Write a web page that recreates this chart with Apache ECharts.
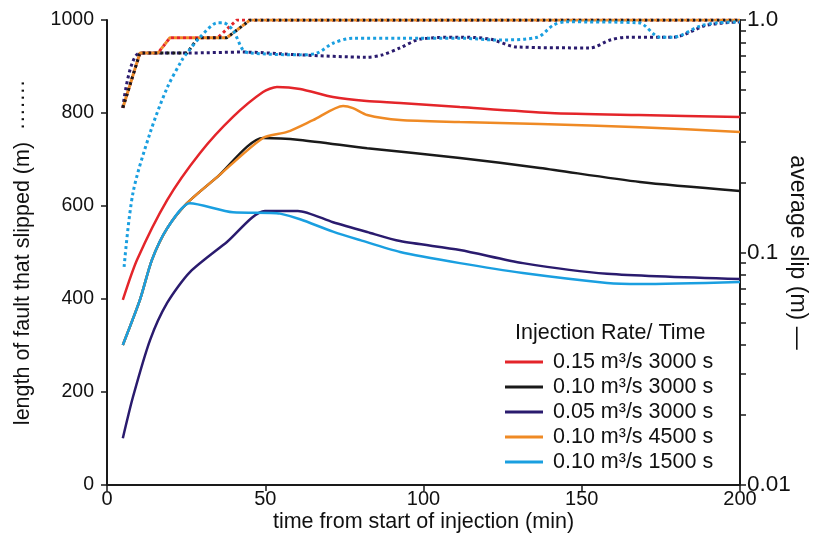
<!DOCTYPE html>
<html>
<head>
<meta charset="utf-8">
<script src="https://cdn.jsdelivr.net/npm/echarts@6/dist/echarts.min.js"></script>
<style>
html,body{margin:0;padding:0;background:#fff;}
#chart{width:818px;height:538px;}
</style>
</head>
<body>
<div id="chart"></div>
<script>
// ---- data: average slip (m), solid lines, right log axis ----
const slip_015_3000 = [[5,0.0625],[9.5,0.093],[19,0.168],[29.4,0.268],[39.8,0.383],[49.3,0.49],[53.7,0.515],[61,0.505],[71.4,0.466],[82,0.448],[92.6,0.44],[111.5,0.422],[140,0.398],[168,0.39],[200,0.383]];
const slip_010_3000 = [[5,0.040],[10.4,0.0625],[14.2,0.093],[19,0.127],[25.3,0.163],[34.8,0.211],[49.3,0.311],[61,0.305],[82.2,0.281],[111.5,0.255],[136.8,0.231],[168.4,0.201],[200,0.184]];
const slip_005_3000 = [[5,0.0159],[8.2,0.0239],[13.6,0.042],[19,0.0607],[26.2,0.0824],[37.9,0.111],[49.9,0.151],[60.3,0.151],[71.4,0.135],[82.2,0.1225],[92.6,0.112],[111.5,0.1025],[131.4,0.090],[158,0.081],[200,0.0769]];
const slip_010_4500 = [[5,0.040],[10.4,0.0625],[14.2,0.093],[19,0.127],[25.3,0.163],[34.8,0.211],[49.3,0.311],[56.9,0.330],[65.1,0.371],[74.6,0.427],[77.7,0.418],[82.2,0.39],[92.6,0.371],[111.5,0.364],[136.8,0.357],[168.4,0.346],[200,0.330]];
const slip_010_1500 = [[5,0.040],[10.4,0.0625],[14.2,0.093],[19,0.127],[26.2,0.163],[39.8,0.149],[51.5,0.148],[54.7,0.147],[61,0.139],[71.4,0.123],[80,0.113],[92.6,0.1005],[111.5,0.090],[131.4,0.0816],[158,0.074],[168.4,0.0732],[200,0.0747]];

// ---- data: length of fault that slipped (m), dotted lines, left axis ----
const len_015_3000 = [[5,811],[10.4,929],[16.1,929],[19.9,962],[35,962],[41,1000],[200,1000]];
const len_010_3000 = [[5,811],[10.4,929],[25.3,929],[28.8,962],[37.9,962],[45.2,1000],[200,1000]];
const len_005_3000 = [[5,811],[10.4,929],[25.3,929],[43,931],[61,925],[82,920],[87,925],[92.6,940],[99,959],[111.5,963],[121,959],[129.5,942],[152.6,940],[159,957],[164.3,963],[178.8,963],[189.6,989],[200,996]];
const len_010_4500 = [[5,811],[10.4,929],[16.1,929],[19.9,962],[37.9,962],[45.2,1000],[200,1000]];
const len_010_1500 = [[5.4,469],[8.2,628],[13.6,757],[19,854],[23.7,914],[25.3,929],[29.4,963],[35,994],[36.7,994],[39.8,978],[43,935],[45.2,929],[61,925],[66.4,929],[71.4,950],[77.7,961],[92.6,961],[111.5,961],[123,957],[136,963],[141,989],[145,996],[168,994],[174.7,963],[178.8,963],[187.4,987],[193,994],[200,996]];

// ---- labels ----
const legendNames = ['0.15 m\u00B3/s 3000 s','0.10 m\u00B3/s 3000 s','0.05 m\u00B3/s 3000 s','0.10 m\u00B3/s 4500 s','0.10 m\u00B3/s 1500 s'];
const colors = ['#e4252a','#1a1a1a','#2a1b6e','#ef8a25','#1a9fe0'];
const slipTickValues = [0.01,0.02,0.03,0.04,0.05,0.06,0.07,0.08,0.09,0.1,0.2,0.3,0.4,0.5,0.6,0.7,0.8,0.9,1];
const slipLabelValues = [0.01,0.1,1];

const FONT = 'Liberation Sans, Arial, Helvetica, sans-serif';
const slipSets = [slip_015_3000, slip_010_3000, slip_005_3000, slip_010_4500, slip_010_1500];
const lenSets = [len_015_3000, len_010_3000, len_005_3000, len_010_4500, len_010_1500];
const solidZ = [6,3,5,4,5];
const dotZ = [2.2,2.5,2.0,2.6,2.7];
const dotOffset = [0,0,0,3,0];

const series = [];
lenSets.forEach((d,i)=>{
  series.push({
    name: 'len' + i, type:'line', yAxisIndex:0, data:d, symbol:'none',
    smooth: (i===2||i===4) ? 0.3 : false, z: dotZ[i],
    lineStyle:{color:colors[i], width:3, type:[3,3], dashOffset:dotOffset[i]}, silent:true
  });
});
slipSets.forEach((d,i)=>{
  series.push({
    name: legendNames[i], type:'line', yAxisIndex:1, data:d, symbol:'none',
    smooth: 0.25, z: solidZ[i],
    lineStyle:{color:colors[i], width:2.5}, itemStyle:{color:colors[i]}
  });
});

const chart = echarts.init(document.getElementById('chart'), null, {renderer:'canvas'});
chart.setOption({
  animation:false,
  backgroundColor:'#fff',
  textStyle:{fontFamily:FONT},
  grid:{left:107, right:78, top:20, bottom:53, containLabel:false, outerBoundsMode:'none'},
  title:{text:'Injection Rate/ Time', left:515, top:322, padding:0,
    textStyle:{fontFamily:FONT, fontSize:21.5, fontWeight:'normal', color:'#111'}},
  legend:{
    data:legendNames, orient:'vertical', left:505, top:351, padding:0,
    icon:'rect', itemWidth:38, itemHeight:3, itemGap:3,
    textStyle:{fontFamily:FONT, fontSize:21.5, color:'#111', lineHeight:21, padding:[0,0,0,5]}
  },
  xAxis:{
    type:'value', min:0, max:200, interval:50,
    name:'time from start of injection (min)', nameLocation:'middle', nameGap:26, nameMoveOverlap:false,
    nameTextStyle:{fontFamily:FONT, fontSize:21.5, color:'#111'},
    axisLine:{show:true, lineStyle:{color:'#1a1a1a', width:2}},
    axisTick:{show:true, inside:false, length:6, lineStyle:{color:'#1a1a1a', width:1.5}},
    axisLabel:{fontFamily:FONT, fontSize:20, color:'#111', margin:4},
    splitLine:{show:false}
  },
  yAxis:[{
    type:'value', min:0, max:1000, interval:200, position:'left',
    name:'length of fault that slipped (m)  \u00B7\u00B7\u00B7\u00B7\u00B7\u00B7\u00B7', nameLocation:'middle', nameGap:73, nameRotate:90, nameMoveOverlap:false,
    nameTextStyle:{fontFamily:FONT, fontSize:21.5, color:'#111'},
    axisLine:{show:true, lineStyle:{color:'#1a1a1a', width:2}},
    axisTick:{show:true, inside:false, length:6, lineStyle:{color:'#1a1a1a', width:1.5}},
    axisLabel:{fontFamily:FONT, fontSize:19.5, color:'#111', margin:13, formatter:function(v){return String(v);}},
    splitLine:{show:false}
  },{
    type:'log', logBase:10, min:0.01, max:1, position:'right',
    name:'average slip (m) \u2014', nameLocation:'middle', nameGap:46, nameRotate:-90, nameMoveOverlap:false,
    nameTextStyle:{fontFamily:FONT, fontSize:23, color:'#111'},
    axisLine:{show:true, onZero:false, lineStyle:{color:'#1a1a1a', width:2}},
    axisTick:{show:true, inside:false, length:6, customValues:slipTickValues, lineStyle:{color:'#1a1a1a', width:1.5}},
    axisLabel:{fontFamily:FONT, fontSize:22.5, color:'#111', margin:7, customValues:slipLabelValues,
      formatter:function(v){ return v>=0.999 ? '1.0' : (v>=0.099 ? '0.1' : '0.01'); }},
    splitLine:{show:false}, minorTick:{show:false}
  }],
  series:series
});
</script>
</body>
</html>
